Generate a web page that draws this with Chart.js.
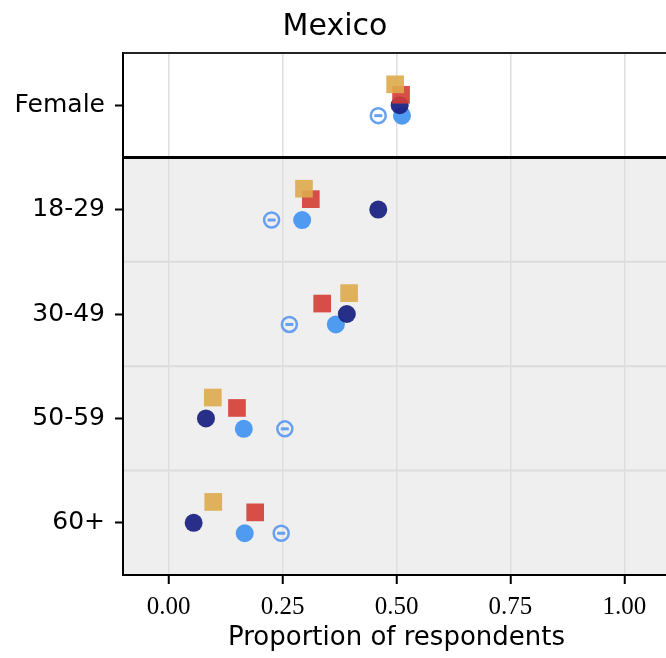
<!DOCTYPE html>
<html>
<head>
<meta charset="utf-8">
<script src="https://cdn.jsdelivr.net/npm/chart.js@4.4.1/dist/chart.umd.min.js"></script>
<style>
  html, body { margin: 0; padding: 0; background: #fff; overflow: hidden; }
  #wrap { width: 666px; height: 658px; overflow: hidden; }
</style>
</head>
<body>
<div id="wrap"><canvas id="chart" width="670" height="658"></canvas></div>
<script>
const groups = ["Female", "18-29", "30-49", "50-59", "60+"];
const xTicks = [0, 0.25, 0.5, 0.75, 1.0];

// proportion per group, one array per series
const goldSquare = [0.497, 0.297, 0.396, 0.097, 0.098];
const redSquare = [0.510, 0.312, 0.337, 0.150, 0.190];
const navyDot = [0.507, 0.460, 0.391, 0.082, 0.055];
const blueDot = [0.512, 0.293, 0.367, 0.165, 0.167];
const blueRing = [0.460, 0.226, 0.265, 0.255, 0.247];

// vertical dodge within each row
const dodge = [-0.2, -0.1, 0, 0.1, 0.1];

function pts(vals, k) {
  return vals.map((v, i) => ({ x: v, y: i + dodge[k] }));
}

const bandPlugin = {
  id: "bands",
  beforeDraw(chart) {
    const { ctx, chartArea: a, scales: { y } } = chart;
    ctx.save();
    ctx.fillStyle = "#fff";
    ctx.fillRect(0, 0, chart.width, chart.height);
    const split = y.getPixelForValue(0.5);
    ctx.fillStyle = "#efefef";
    ctx.fillRect(a.left, split, a.right - a.left, a.bottom - split);
    ctx.strokeStyle = "#dcdcdc";
    ctx.lineWidth = 2;
    [1.5, 2.5, 3.5].forEach(v => {
      const py = y.getPixelForValue(v);
      ctx.beginPath();
      ctx.moveTo(a.left, py);
      ctx.lineTo(a.right, py);
      ctx.stroke();
    });
    ctx.restore();
  },
  afterDraw(chart) {
    const { ctx, chartArea: a, scales: { y } } = chart;
    ctx.save();
    ctx.strokeStyle = "#000";
    ctx.lineWidth = 3;
    const split = y.getPixelForValue(0.5);
    ctx.beginPath();
    ctx.moveTo(a.left, split);
    ctx.lineTo(a.right, split);
    ctx.stroke();
    ctx.lineWidth = 2;
    ctx.strokeStyle = "#222";
    ctx.beginPath();
    ctx.moveTo(a.left, a.top);
    ctx.lineTo(a.right, a.top);
    ctx.stroke();
    ctx.restore();
  }
};

new Chart(document.getElementById("chart"), {
  type: "scatter",
  data: {
    datasets: [
      {
        label: "gold", data: pts(goldSquare, 0), pointStyle: "rect",
        pointRadius: 12.5, backgroundColor: "rgba(222,170,75,0.9)", borderWidth: 0
      },
      {
        label: "red", data: pts(redSquare, 1), pointStyle: "rect",
        pointRadius: 12.5, backgroundColor: "rgba(212,60,52,0.9)", borderWidth: 0
      },
      {
        label: "navy", data: pts(navyDot, 2), pointStyle: "circle",
        pointRadius: 9, backgroundColor: "rgba(28,36,130,0.95)", borderWidth: 0
      },
      {
        label: "blue", data: pts(blueDot, 3), pointStyle: "circle",
        pointRadius: 9, backgroundColor: "rgba(70,150,240,0.95)", borderWidth: 0
      },
      {
        label: "ring", data: pts(blueRing, 4), pointStyle: "circle",
        pointRadius: 7.5, backgroundColor: "rgba(255,255,255,0)",
        borderColor: "rgba(95,155,240,0.95)", borderWidth: 2.5
      },
      {
        label: "ringbar", data: pts(blueRing, 4), pointStyle: "line",
        pointRadius: 4, borderColor: "rgba(95,155,240,0.95)", borderWidth: 3
      }
    ]
  },
  options: {
    responsive: false,
    animation: false,
    layout: { autoPadding: false, padding: 0 },
    plugins: {
      legend: { display: false },
      tooltip: { enabled: false },
      title: {
        display: true,
        text: "Mexico",
        color: "#000",
        font: { family: "'DejaVu Sans'", size: 30, weight: "normal" },
        padding: { top: 9, bottom: 8 }
      }
    },
    scales: {
      x: {
        type: "linear",
        min: -0.1,
        max: 1.1,
        afterBuildTicks: s => { s.ticks = xTicks.map(v => ({ value: v })); },
        afterFit: s => { s.height = 83; },
        ticks: {
          color: "#000",
          padding: 8,
          font: { family: "'Liberation Serif'", size: 25 },
          callback: v => v.toFixed(2)
        },
        grid: { color: "#dedede", lineWidth: 1.5, tickLength: 9, tickColor: "#000", tickWidth: 2 },
        border: { color: "#000", width: 2 },
        title: {
          display: true,
          text: "Proportion of respondents",
          color: "#000",
          font: { family: "'DejaVu Sans'", size: 26 },
          padding: { top: 0, bottom: 4 }
        }
      },
      y: {
        type: "linear",
        reverse: true,
        min: -0.5,
        max: 4.5,
        afterBuildTicks: s => { s.ticks = groups.map((g, i) => ({ value: i })); },
        afterFit: s => { s.width = 123; },
        ticks: {
          color: "#000",
          padding: 10,
          font: { family: "'DejaVu Sans'", size: 25 },
          callback: v => groups[v]
        },
        grid: { drawOnChartArea: false, tickLength: 8, tickColor: "#000", tickWidth: 2 },
        border: { color: "#000", width: 2 }
      }
    }
  },
  plugins: [bandPlugin]
});
</script>
</body>
</html>
